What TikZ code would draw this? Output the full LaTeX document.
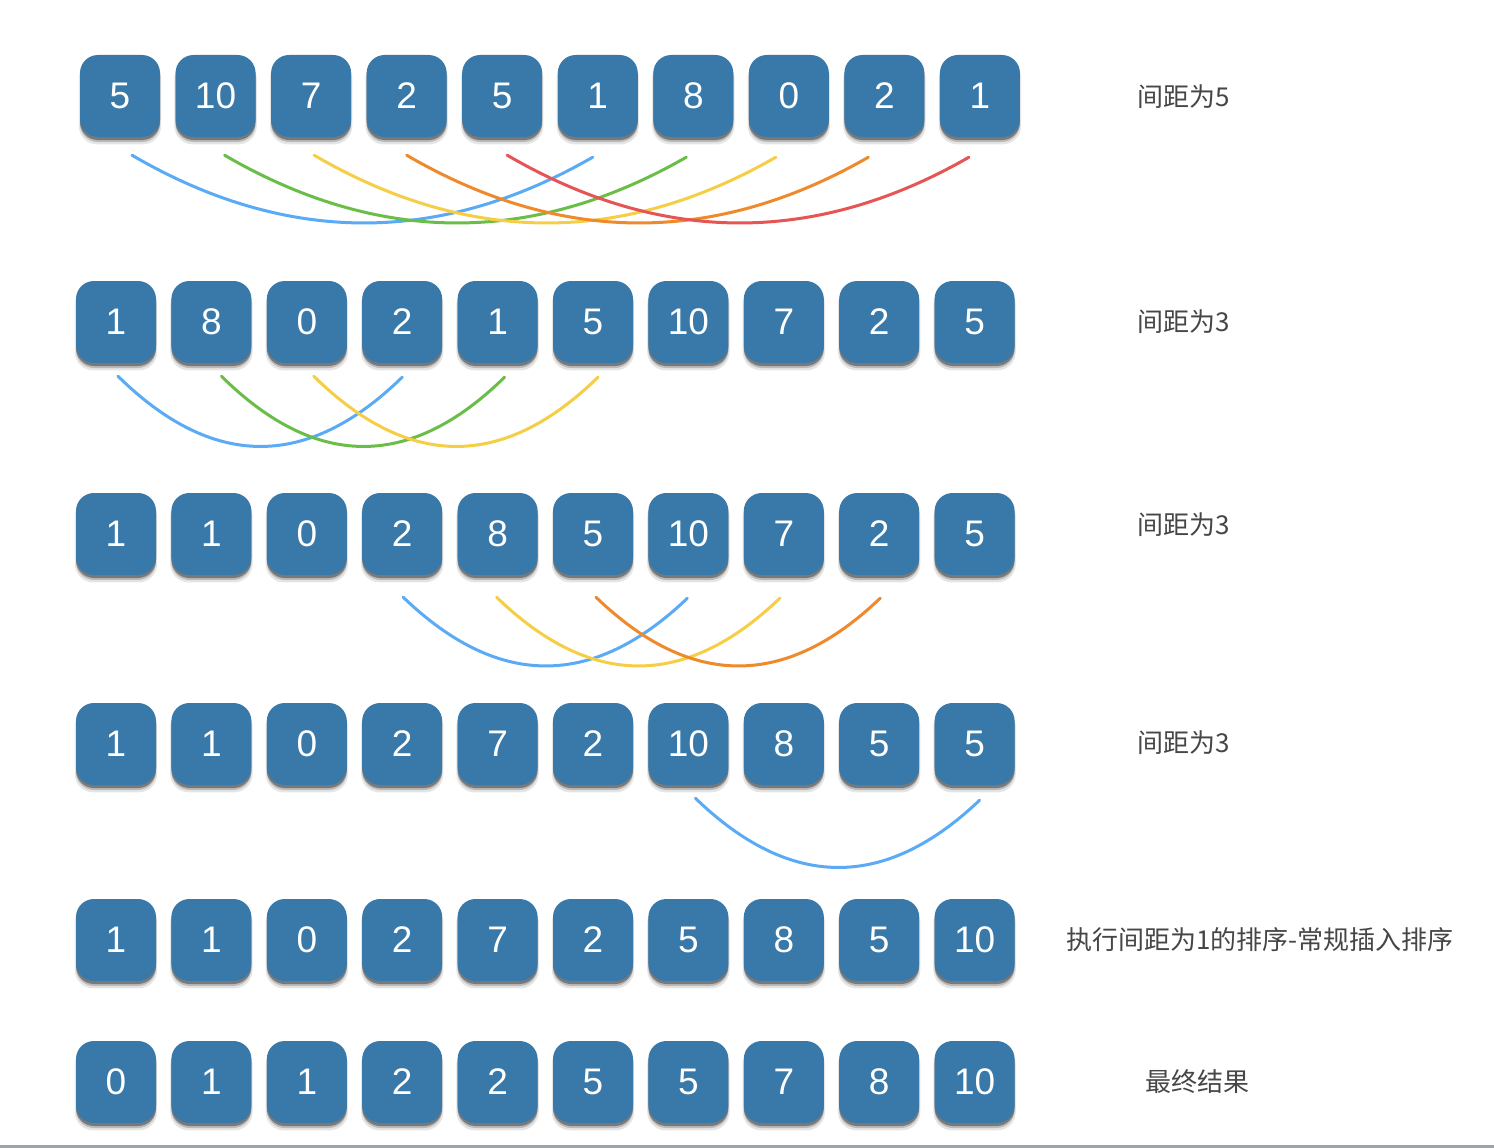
\documentclass[tikz,border=0pt]{standalone}
\usepackage{fontspec}
\setmainfont{Liberation Sans}
\newfontfamily\cjk{Noto Sans CJK SC}
\usetikzlibrary{calc,shadows}
\definecolor{boxblue}{RGB}{56,121,170}
\definecolor{arcblue}{RGB}{90,170,245}
\definecolor{arcgreen}{RGB}{106,190,72}
\definecolor{arcyellow}{RGB}{246,206,70}
\definecolor{arcorange}{RGB}{238,138,44}
\definecolor{arcred}{RGB}{230,84,84}
\definecolor{labelgray}{RGB}{70,70,70}
\definecolor{linegray}{RGB}{160,164,168}
\tikzset{
  numbox/.style={rounded corners=18pt, fill=boxblue, minimum width=80pt, minimum height=82pt,
    inner sep=0pt, text=white, font=\fontsize{37}{37}\selectfont,
    drop shadow={shadow xshift=0pt, shadow yshift=-6pt, shadow scale=1.03, opacity=0.10, fill=black},
    drop shadow={shadow xshift=0pt, shadow yshift=-5pt, opacity=0.18, fill=black},
    drop shadow={shadow xshift=0pt, shadow yshift=-3pt, opacity=0.35, fill=black}},
  arcline/.style={line width=3pt, line cap=round},
  rowlabel/.style={text=labelgray, font=\cjk\fontsize{26}{26}\selectfont, inner sep=0pt}
}
\newcommand{\gaparc}[4]{\draw[arcline,#4] (#1) .. controls ($(#1)!0.3333!(#2)+(0,#3)$) and ($(#1)!0.6667!(#2)+(0,#3)$) .. (#2);}
\begin{document}
\begin{tikzpicture}[x=1pt,y=-1pt]
\useasboundingbox (0,0) rectangle (1494,1148);
\fill[white] (0,0) rectangle (1494,1148);
% rows of boxes
\foreach \v [count=\i from 0] in {5,10,7,2,5,1,8,0,2,1}
  \node[numbox] (a\i) at ({120+95.55*\i},96) {\v};
\foreach \v [count=\i from 0] in {1,8,0,2,1,5,10,7,2,5}
  \node[numbox] (b\i) at ({116+95.4*\i},322) {\v};
\foreach \v [count=\i from 0] in {1,1,0,2,8,5,10,7,2,5}
  \node[numbox] (c\i) at ({116+95.4*\i},534) {\v};
\foreach \v [count=\i from 0] in {1,1,0,2,7,2,10,8,5,5}
  \node[numbox] (d\i) at ({116+95.4*\i},744) {\v};
\foreach \v [count=\i from 0] in {1,1,0,2,7,2,5,8,5,10}
  \node[numbox] (e\i) at ({116+95.4*\i},940) {\v};
\foreach \v [count=\i from 0] in {0,1,1,2,2,5,5,7,8,10}
  \node[numbox] (f\i) at ({116+95.4*\i},1082) {\v};
% labels
\node[rowlabel] (la) at (1184,97) {间距为5};
\node[rowlabel] (lb) at (1184,322) {间距为3};
\node[rowlabel] (lc) at (1184,525) {间距为3};
\node[rowlabel] (ld) at (1184,743) {间距为3};
\node[rowlabel] (le) at (1260,940) {执行间距为1的排序-常规插入排序};
\node[rowlabel] (lf) at (1197,1082) {最终结果};
% arc endpoints row 1
\coordinate (a1s) at ($(a0.south)+(12,18)$);  \coordinate (a1e) at ($(a5.south)+(-5,20)$);
\coordinate (a2s) at ($(a1.south)+(9,18)$);   \coordinate (a2e) at ($(a6.south)+(-7,20)$);
\coordinate (a3s) at ($(a2.south)+(3,18)$);   \coordinate (a3e) at ($(a7.south)+(-13,20)$);
\coordinate (a4s) at ($(a3.south)+(0,18)$);   \coordinate (a4e) at ($(a8.south)+(-16,20)$);
\coordinate (a5s) at ($(a4.south)+(5,18)$);   \coordinate (a5e) at ($(a9.south)+(-11,20)$);
\gaparc{a1s}{a1e}{89}{arcblue}
\gaparc{a2s}{a2e}{89}{arcgreen}
\gaparc{a3s}{a3e}{89}{arcyellow}
\gaparc{a4s}{a4e}{89}{arcorange}
\gaparc{a5s}{a5e}{89}{arcred}
% row 2
\coordinate (b1s) at ($(b0.south)+(2,13)$);  \coordinate (b1e) at ($(b3.south)+(0,14)$);
\coordinate (b2s) at ($(b1.south)+(10,13)$); \coordinate (b2e) at ($(b4.south)+(7,14)$);
\coordinate (b3s) at ($(b2.south)+(7,13)$);  \coordinate (b3e) at ($(b5.south)+(5,14)$);
\gaparc{b1s}{b1e}{93}{arcblue}
\gaparc{b2s}{b2e}{93}{arcgreen}
\gaparc{b3s}{b3e}{93}{arcyellow}
% row 3
\coordinate (c1s) at ($(c3.south)+(1,22)$);  \coordinate (c1e) at ($(c6.south)+(-1,23)$);
\coordinate (c2s) at ($(c4.south)+(-1,22)$); \coordinate (c2e) at ($(c7.south)+(-4,23)$);
\coordinate (c3s) at ($(c5.south)+(3,22)$);  \coordinate (c3e) at ($(c8.south)+(1,23)$);
\gaparc{c1s}{c1e}{91}{arcblue}
\gaparc{c2s}{c2e}{91}{arcyellow}
\gaparc{c3s}{c3e}{91}{arcorange}
% row 4
\coordinate (d1s) at ($(d6.south)+(7,13)$);  \coordinate (d1e) at ($(d9.south)+(5,15)$);
\gaparc{d1s}{d1e}{91}{arcblue}
% bottom rule
\fill[linegray] (0,1145) rectangle (1494,1148);
\end{tikzpicture}
\end{document}
